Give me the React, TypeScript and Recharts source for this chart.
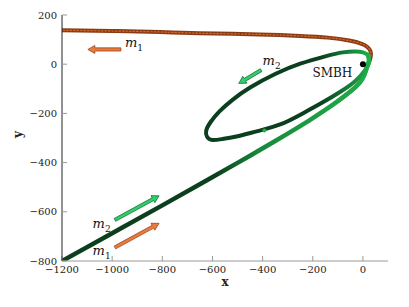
import React from "react";
import { LineChart, Line, XAxis, YAxis, ReferenceLine, ReferenceDot } from "recharts";

const xTicks = [-1200, -1000, -800, -600, -400, -200, 0];
const yTicks = [-800, -600, -400, -200, 0, 200];

// m2 inbound leg towards the SMBH
const m2Inbound = [
  [-1200, -800], [-1000, -687], [-800, -574], [-631, -477], [-500, -401], [-413, -350],
  [-300, -282], [-215, -229], [-150, -186], [-96, -147], [-50, -111], [-16, -79], [5, -45],
  [17, -10], [24, 15], [20, 38],
];
// m2 captured orbit, from pericentre round and back
const m2Orbit = [
  [20, 38], [0, 48], [-30, 52], [-80, 48], [-150, 32], [-250, 2], [-350, -40], [-450, -95],
  [-520, -145], [-572, -192], [-608, -236], [-625, -270], [-621, -296], [-600, -308],
  [-560, -304], [-500, -293], [-420, -272], [-330, -245], [-240, -200], [-160, -155],
  [-90, -112], [-30, -68], [10, -22], [25, 12], [20, 38],
];
// m1 swings round the SMBH and leaves to the left
const m1Path = [
  [-96, -147], [-50, -111], [-16, -79], [5, -45], [17, -10], [27, 15], [32, 40], [28, 58],
  [15, 72], [-5, 83], [-55, 96], [-140, 108], [-250, 115], [-413, 121], [-651, 126],
  [-810, 131], [-1000, 135], [-1200, 138],
];

// arrows: [x from, y from, x to, y to]
const m1Arrows = [[-965, 60, -1097, 60], [-989, -745, -813, -647]];
const m2Arrows = [[-406, -24, -495, -78], [-989, -633, -813, -535]];
// labels: [x, y, subscript]
const massLabels = [[-949, 70, "1"], [-400, -5, "2"], [-1078, -667, "2"], [-1078, -775, "1"]];

const FONT = "DejaVu Serif";
const DARK_GREEN = "#0b3f1d";
const MID_GREEN = "#168a3c";
const LIGHT_GREEN = "#1fae4b";
const BROWN = "#8a3a14";

const toPts = (a: number[][]) => a.map(([x, y]) => ({ x, y }));
const fmt = (v: number) => (v < 0 ? `\u2212${Math.abs(v)}` : `${v}`);

const arrowShape = (fill: string, edge: string) => (p: any) => {
  const { x1, y1, x2, y2 } = p;
  const dx = x2 - x1;
  const dy = y2 - y1;
  const len = Math.hypot(dx, dy) || 1;
  const ux = dx / len;
  const uy = dy / len;
  const nx = -uy;
  const ny = ux;
  const hl = 7;
  const hw = 4;
  const sw = 1.6;
  const bx = x2 - ux * hl;
  const by = y2 - uy * hl;
  const pts = [
    [x1 + nx * sw, y1 + ny * sw],
    [bx + nx * sw, by + ny * sw],
    [bx + nx * hw, by + ny * hw],
    [x2, y2],
    [bx - nx * hw, by - ny * hw],
    [bx - nx * sw, by - ny * sw],
    [x1 - nx * sw, y1 - ny * sw],
  ];
  return (
    <polygon
      points={pts.map((q) => q.join(",")).join(" ")}
      fill={fill}
      stroke={edge}
      strokeWidth={0.7}
    />
  );
};

const massLabel = (sub: string) => (p: any) => (
  <text x={p.cx} y={p.cy} fontFamily={FONT} fill="#111">
    <tspan fontStyle="italic" fontSize={13}>m</tspan>
    <tspan fontSize={9} dy={4}>{sub}</tspan>
  </text>
);

const lineProps = {
  type: "natural" as const,
  dataKey: "y",
  dot: false,
  activeDot: false,
  isAnimationActive: false,
  strokeLinecap: "round" as const,
  strokeLinejoin: "round" as const,
};

export default function App() {
  const tickStyle = { fill: "#222", fontSize: 10, fontFamily: FONT };
  return (
    <div style={{ position: "absolute", left: 0, top: 0 }}>
      <LineChart width={409} height={307} margin={{ top: 15, right: 21, bottom: 16, left: 0 }}>
        <defs>
          <linearGradient id="inboundGrad" x1="0" y1="0" x2="1" y2="0">
            <stop offset="0" stopColor={DARK_GREEN} />
            <stop offset="0.5" stopColor={DARK_GREEN} />
            <stop offset="0.64" stopColor={MID_GREEN} />
            <stop offset="1" stopColor={LIGHT_GREEN} />
          </linearGradient>
          <linearGradient id="orbitGrad" x1="0" y1="0" x2="1" y2="0">
            <stop offset="0" stopColor={DARK_GREEN} />
            <stop offset="0.7" stopColor={DARK_GREEN} />
            <stop offset="0.9" stopColor={MID_GREEN} />
            <stop offset="1" stopColor={LIGHT_GREEN} />
          </linearGradient>
        </defs>
        <XAxis
          type="number"
          dataKey="x"
          domain={[-1200, 100]}
          allowDataOverflow
          ticks={xTicks}
          interval={0}
          tickFormatter={fmt}
          tickSize={-5}
          tickMargin={10}
          height={30}
          stroke="#999"
          tickLine={{ stroke: "#999" }}
          tick={tickStyle}
          label={{ value: "x", position: "insideBottom", offset: 5, fontFamily: FONT, fontWeight: "bold", fontSize: 12, fill: "#222" }}
        />
        <XAxis
          xAxisId="top"
          orientation="top"
          type="number"
          domain={[-1200, 100]}
          allowDataOverflow
          ticks={xTicks}
          interval={0}
          tickSize={-5}
          tick={false}
          height={0}
          stroke="#aaa"
        />
        <YAxis
          type="number"
          domain={[-800, 200]}
          allowDataOverflow
          ticks={yTicks}
          interval={0}
          tickFormatter={fmt}
          tickSize={-5}
          tickMargin={10}
          width={62}
          stroke="#222"
          tickLine={{ stroke: "#999" }}
          tick={tickStyle}
          label={{ value: "y", angle: -90, position: "insideLeft", offset: 18, fontFamily: FONT, fontWeight: "bold", fontSize: 12, fill: "#222" }}
        />
        <YAxis
          yAxisId="right"
          orientation="right"
          type="number"
          domain={[-800, 200]}
          allowDataOverflow
          ticks={yTicks}
          interval={0}
          tickSize={-5}
          tick={false}
          width={0}
          stroke="#aaa"
        />

        <Line {...lineProps} data={toPts(m1Path)} stroke={BROWN} strokeWidth={4} />
        <Line {...lineProps} data={toPts(m1Path)} stroke="#d0692a" strokeWidth={1.2} strokeDasharray="1.5 2" />
        <Line {...lineProps} data={toPts(m2Inbound)} stroke="url(#inboundGrad)" strokeWidth={4.5} />
        <Line {...lineProps} data={toPts(m2Orbit)} stroke="url(#orbitGrad)" strokeWidth={4} />

        <ReferenceDot x={-393} y={-270} r={2} fill={LIGHT_GREEN} stroke="none" />
        <ReferenceDot x={0} y={0} r={3} fill="#000" stroke="none" />
        <ReferenceDot
          x={-201}
          y={-51}
          r={0}
          shape={(p: any) => (
            <text x={p.cx} y={p.cy} fontFamily={FONT} fontSize={12} fill="#111">
              SMBH
            </text>
          )}
        />

        {m1Arrows.map((a, i) => (
          <ReferenceLine
            key={`m1a${i}`}
            segment={[{ x: a[0], y: a[1] }, { x: a[2], y: a[3] }]}
            shape={arrowShape("#ec7a3e", "#8a3a14")}
          />
        ))}
        {m2Arrows.map((a, i) => (
          <ReferenceLine
            key={`m2a${i}`}
            segment={[{ x: a[0], y: a[1] }, { x: a[2], y: a[3] }]}
            shape={arrowShape("#2fcf6a", "#0b5a26")}
          />
        ))}
        {massLabels.map((l, i) => (
          <ReferenceDot
            key={`ml${i}`}
            x={l[0] as number}
            y={l[1] as number}
            r={0}
            shape={massLabel(l[2] as string)}
          />
        ))}
      </LineChart>
    </div>
  );
}
